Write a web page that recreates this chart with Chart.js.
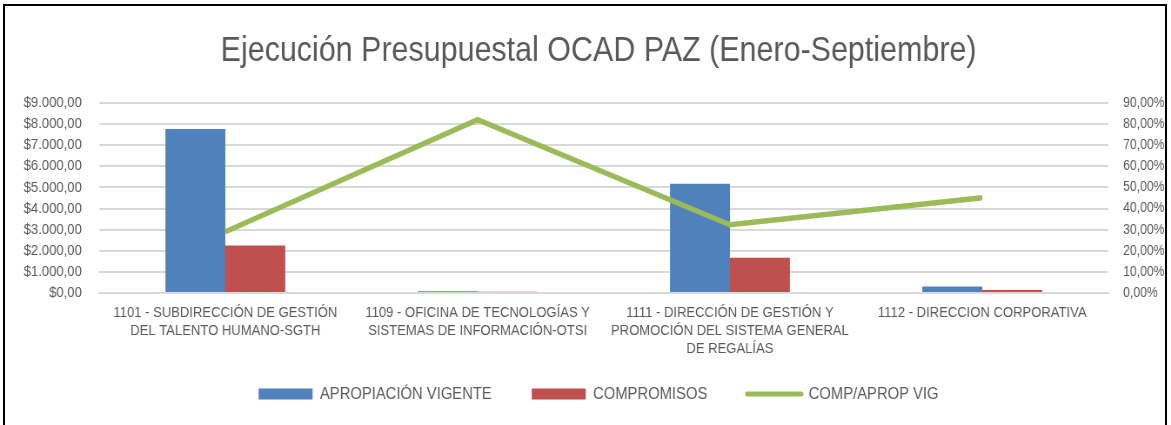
<!DOCTYPE html>
<html lang="es">
    <head>
        <meta charset="UTF-8">
        <title>Ejecución Presupuestal OCAD PAZ</title>
        <script src="https://cdn.jsdelivr.net/npm/chart.js"></script>
        <style>
            body, html {
                margin: 0;
                padding: 0;
                background: #fff;
                overflow: hidden;
            }
            #frame {
                position: absolute;
                left: 3px;
                top: 4px;
                width: 1160px;
                height: 440px;
                border: 2px solid #000;
                pointer-events: none;
            }
            /* the original text is a narrow face, so the canvas is squeezed sideways */
            #ocadChart {
                position: absolute;
                left: 0;
                top: 0;
                transform: scaleX(0.87);
                transform-origin: 0 0;
            }
        </style>
    </head>
    <body>
        <canvas id="ocadChart" width="1346" height="425"></canvas>
        <div id="frame"></div>

        <script>
            // datos
            const categorias = [
                ['1101 - SUBDIRECCIÓN DE GESTIÓN', 'DEL TALENTO HUMANO-SGTH'],
                ['1109 - OFICINA DE TECNOLOGÍAS Y', 'SISTEMAS DE INFORMACIÓN-OTSI'],
                ['1111 - DIRECCIÓN DE GESTIÓN Y', 'PROMOCIÓN DEL SISTEMA GENERAL', 'DE REGALÍAS'],
                ['1112 - DIRECCION CORPORATIVA']
            ];
            const apropiacionVigente = [7770, 78, 5180, 310];
            const compromisos = [2255, 64, 1670, 140];
            const compAprop = [29.0, 82.1, 32.3, 45.1];

            const fuente = "'Liberation Sans', Arial, sans-serif";
            const gris = '#595959';

            Chart.defaults.font.family = fuente;
            Chart.defaults.color = gris;

            const fmtPesos = v => '$' + Number(v).toLocaleString('de-DE', {minimumFractionDigits: 2, maximumFractionDigits: 2});
            const fmtPct = v => Number(v).toLocaleString('de-DE', {minimumFractionDigits: 2, maximumFractionDigits: 2}) + '%';

            // la leyenda usa un padding grande entre items; se sube para que quede bajo las etiquetas
            const subirLeyenda = {
                id: 'subirLeyenda',
                afterLayout(chart) {
                    const lg = chart.legend;
                    const h = lg.bottom - lg.top;
                    lg.top = 339.5;
                    lg.bottom = lg.top + h;
                }
            };

            const ctx = document.getElementById('ocadChart').getContext('2d');

            new Chart(ctx, {
                type: 'bar',
                data: {
                    labels: categorias,
                    datasets: [
                        {
                            label: 'APROPIACIÓN VIGENTE',
                            data: apropiacionVigente,
                            backgroundColor: '#4F81BD',
                            yAxisID: 'y',
                            order: 1
                        },
                        {
                            label: 'COMPROMISOS',
                            data: compromisos,
                            backgroundColor: '#C0504D',
                            yAxisID: 'y',
                            order: 1
                        },
                        {
                            type: 'line',
                            label: 'COMP/APROP VIG',
                            data: compAprop,
                            borderColor: '#9BBB59',
                            backgroundColor: '#9BBB59',
                            borderWidth: 5.5,
                            pointRadius: 0,
                            tension: 0,
                            yAxisID: 'y1',
                            order: 0
                        }
                    ]
                },
                plugins: [subirLeyenda],
                options: {
                    responsive: false,
                    animation: false,
                    categoryPercentage: 0.475,
                    barPercentage: 1,
                    layout: {
                        padding: { left: 0, right: -30, top: 0, bottom: -15 }
                    },
                    plugins: {
                        title: {
                            display: true,
                            text: 'Ejecución Presupuestal OCAD PAZ (Enero-Septiembre)',
                            color: gris,
                            font: { size: 35, weight: 'normal' },
                            padding: { top: 30, bottom: 31 }
                        },
                        legend: {
                            position: 'bottom',
                            labels: {
                                usePointStyle: true,
                                pointStyleWidth: 62,
                                boxHeight: 11,
                                padding: 46,
                                color: gris,
                                font: { size: 17 },
                                sort: (a, b) => a.datasetIndex - b.datasetIndex,
                                generateLabels: chart => chart.data.datasets.map((ds, i) => ({
                                    text: ds.label,
                                    datasetIndex: i,
                                    fillStyle: ds.backgroundColor,
                                    strokeStyle: ds.borderColor || ds.backgroundColor,
                                    lineWidth: ds.type === 'line' ? 5 : 0,
                                    lineCap: 'round',
                                    pointStyle: ds.type === 'line' ? 'line' : 'rect',
                                    fontColor: gris,
                                    hidden: false
                                }))
                            }
                        },
                        tooltip: { enabled: false }
                    },
                    scales: {
                        x: {
                            afterFit: s => { s.height = 74; },
                            grid: { display: false, drawTicks: false },
                            border: { display: true, color: '#D9D9D9', width: 2 },
                            ticks: {
                                color: gris,
                                font: { size: 15, lineHeight: 1.2 },
                                padding: 11,
                                maxRotation: 0,
                                autoSkip: false
                            }
                        },
                        y: {
                            position: 'left',
                            min: 0,
                            max: 9000,
                            afterFit: s => { s.width = 114; },
                            ticks: {
                                stepSize: 1000,
                                padding: 20,
                                color: gris,
                                font: { size: 15 },
                                callback: v => fmtPesos(v)
                            },
                            grid: { color: '#D9D9D9', lineWidth: 2, drawTicks: false },
                            border: { display: false }
                        },
                        y1: {
                            position: 'right',
                            min: 0,
                            max: 90,
                            afterFit: s => { s.width = 102; },
                            ticks: {
                                stepSize: 10,
                                padding: 17,
                                color: gris,
                                font: { size: 14 },
                                callback: v => fmtPct(v)
                            },
                            grid: { display: false, drawTicks: false },
                            border: { display: false }
                        }
                    }
                }
            });
        </script>
    </body>
</html>
